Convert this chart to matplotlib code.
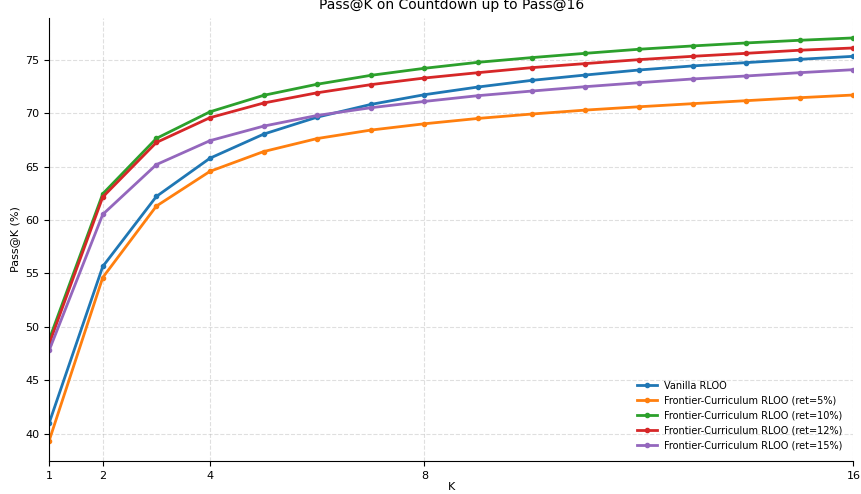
import matplotlib
matplotlib.use("Agg")
import matplotlib.pyplot as plt

k_values = list(range(1, 17))

vanilla = [41.0, 55.65, 62.2, 65.78, 68.03, 69.62, 70.81, 71.72, 72.44, 73.06,
           73.56, 74.03, 74.41, 74.72, 75.03, 75.31]
ret_5 = [39.35, 54.62, 61.3, 64.55, 66.4, 67.62, 68.41, 69.0, 69.5, 69.91,
         70.28, 70.59, 70.88, 71.16, 71.44, 71.69]
ret_10 = [48.8, 62.45, 67.63, 70.12, 71.66, 72.7, 73.53, 74.19, 74.75, 75.19,
          75.59, 75.97, 76.28, 76.56, 76.81, 77.03]
ret_12 = [48.4, 62.15, 67.25, 69.57, 70.94, 71.9, 72.66, 73.28, 73.78, 74.25,
          74.63, 75.0, 75.31, 75.59, 75.88, 76.09]
ret_15 = [47.8, 60.52, 65.18, 67.42, 68.78, 69.78, 70.5, 71.09, 71.63, 72.06,
          72.47, 72.84, 73.19, 73.47, 73.78, 74.06]

series = [
    ("Vanilla RLOO", vanilla, "tab:blue"),
    ("Frontier-Curriculum RLOO (ret=5%)", ret_5, "tab:orange"),
    ("Frontier-Curriculum RLOO (ret=10%)", ret_10, "tab:green"),
    ("Frontier-Curriculum RLOO (ret=12%)", ret_12, "tab:red"),
    ("Frontier-Curriculum RLOO (ret=15%)", ret_15, "tab:purple"),
]

fig, ax = plt.subplots(figsize=(8.62, 4.94), dpi=100)
fig.subplots_adjust(left=0.057, right=0.99, top=0.964, bottom=0.067)

for label, vals, color in series:
    ax.plot(k_values, vals, marker="o", markersize=3, linewidth=2, color=color, label=label)

ax.set_xlim(1, 16)
ax.set_xticks([1, 2, 4, 8, 16])
ax.set_title("Pass@K on Countdown up to Pass@16", fontsize=10)
ax.set_xlabel("K", fontsize=8, labelpad=1)
ax.set_ylabel("Pass@K (%)", fontsize=8)
ax.tick_params(labelsize=8)
ax.grid(True, linestyle="--", alpha=0.4)
ax.spines["top"].set_visible(False)
ax.spines["right"].set_visible(False)
ax.legend(loc="lower right", fontsize=7, frameon=False, borderaxespad=0.7)

fig.savefig("out.png", dpi=100)
